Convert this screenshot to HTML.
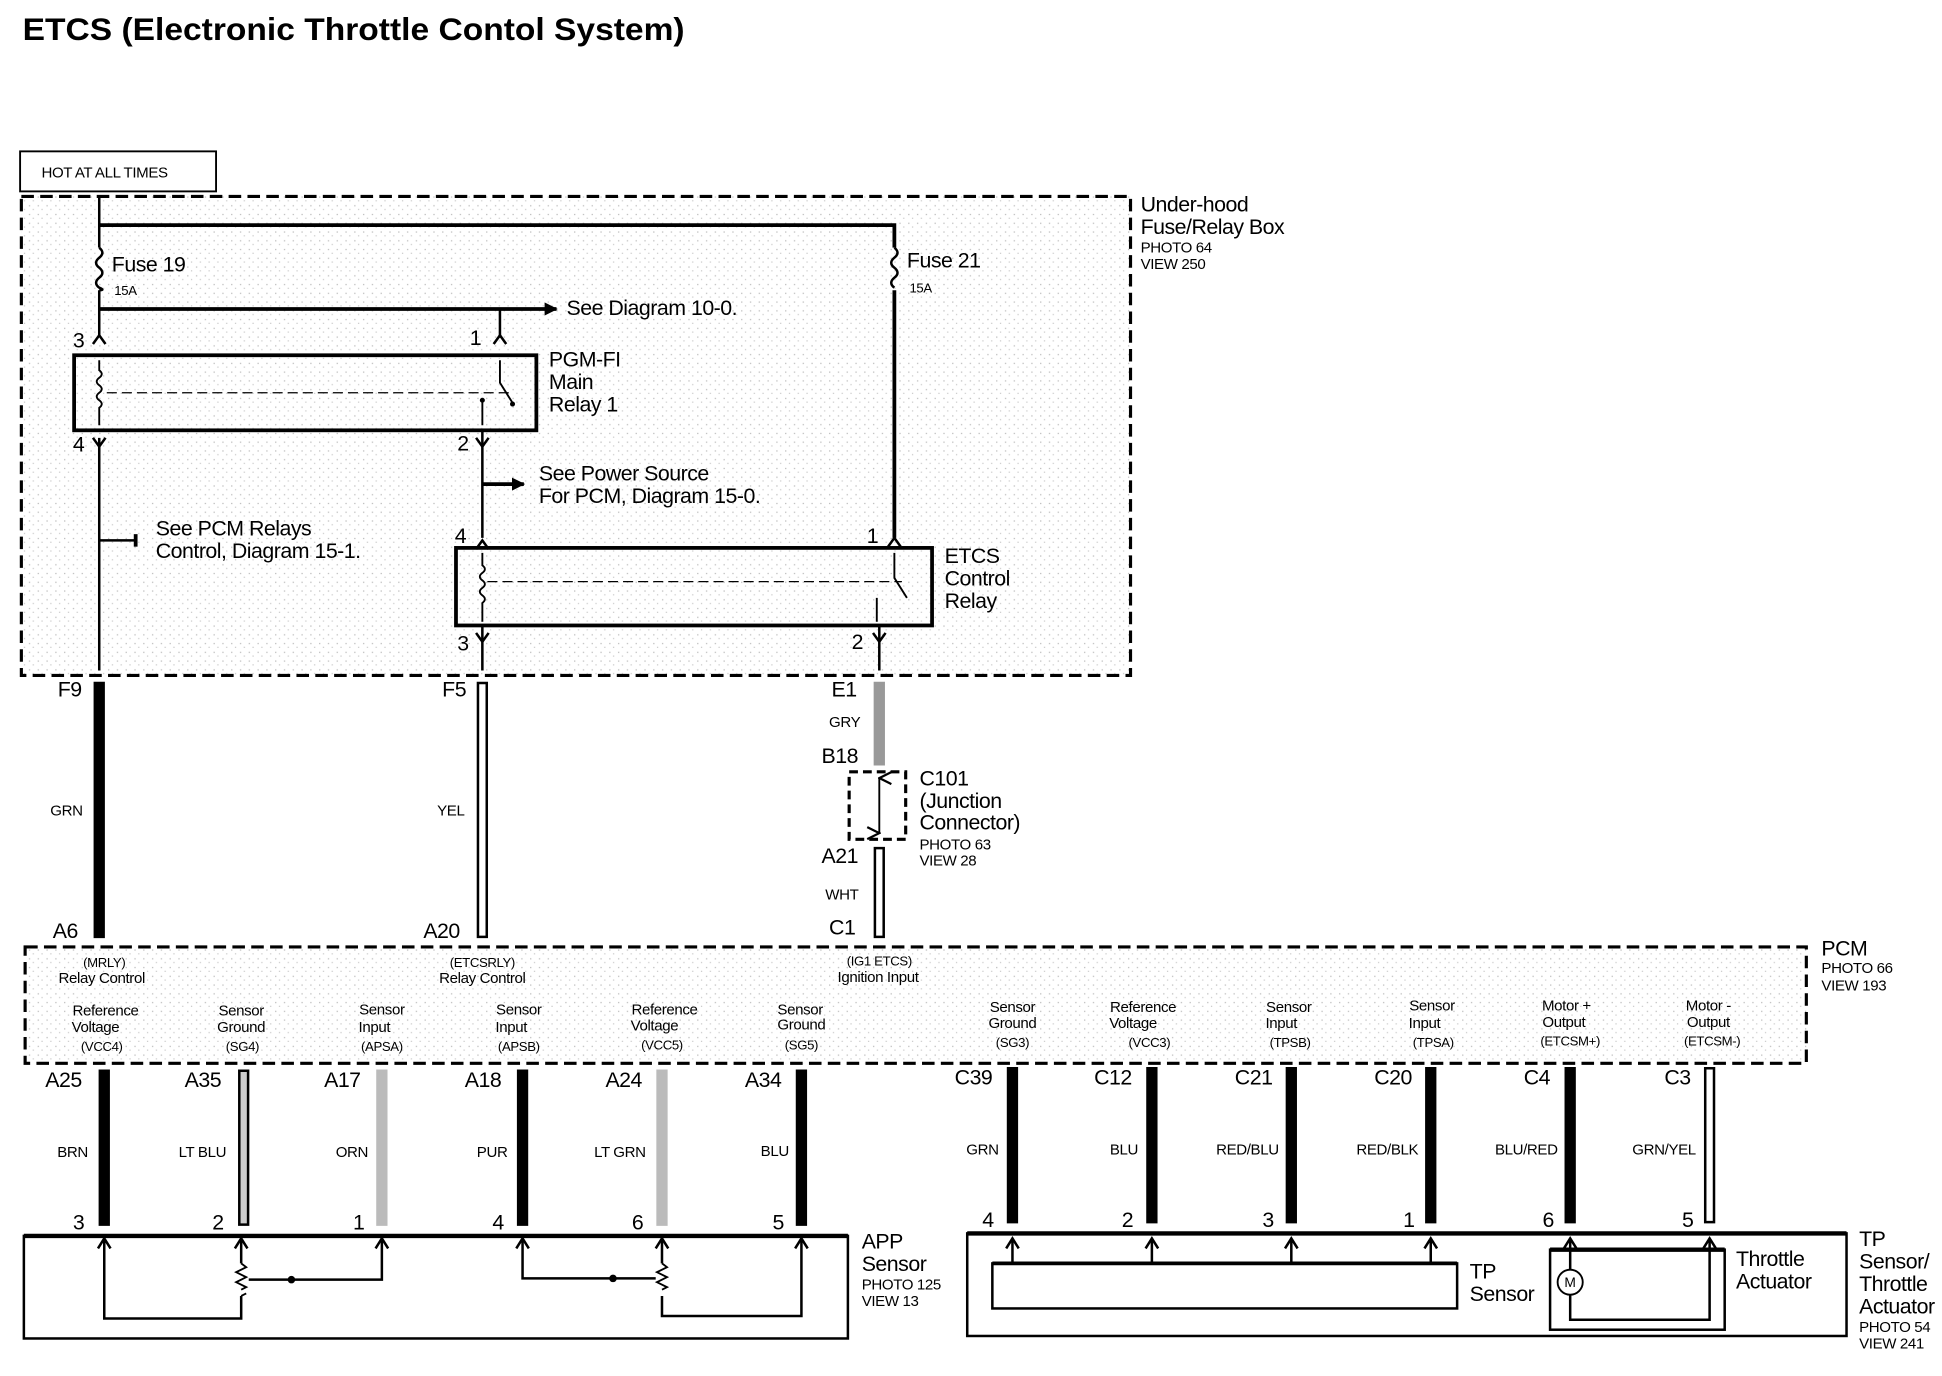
<!DOCTYPE html>
<html><head><meta charset="utf-8"><style>
html,body{margin:0;padding:0;background:#fff;}
svg{display:block;}
text{font-family:"Liberation Sans Narrow","Liberation Sans",Arial,sans-serif;fill:#000;}
.b{font-size:17px;letter-spacing:-0.4px;}
.s{font-size:12px;letter-spacing:-0.3px;}
.xs{font-size:10.5px;letter-spacing:-0.3px;}
.w{fill:none;stroke:#000;stroke-width:2;}
.bk{stroke:#000;stroke-width:9;}
.wh1{stroke:#000;stroke-width:9;}
.wh2{stroke:#fff;stroke-width:5;}
.gr{stroke:#999;stroke-width:9;}
.lg{stroke:#bbb;stroke-width:9;}
</style></head><body>
<svg width="1942" height="1376" viewBox="0 0 1546 1100" preserveAspectRatio="none" xmlns="http://www.w3.org/2000/svg">
<defs>
<pattern id="st" width="7" height="7" patternUnits="userSpaceOnUse"><rect width="7" height="7" fill="#fff"/><rect x="2" y="3" width="1" height="1" fill="#bbb"/><rect x="5" y="6" width="1" height="1" fill="#ccc"/></pattern>
<marker id="ah" viewBox="0 0 10 10" refX="9" refY="5" markerWidth="3.5" markerHeight="3.5" orient="auto"><path d="M0,0 L10,5 L0,10 z" fill="#000"/></marker>
<marker id="up" viewBox="0 0 10 10" refX="5" refY="1" markerWidth="8" markerHeight="8" orient="auto-start-reverse"><path d="M1,9 L5,1 L9,9" fill="none" stroke="#000" stroke-width="1.5"/></marker>
</defs>
<text x="18" y="32" font-size="25" font-weight="bold" textLength="527" lengthAdjust="spacingAndGlyphs" style="font-family:'Liberation Sans',sans-serif">ETCS (Electronic Throttle Contol System)</text>

<rect x="16" y="121" width="156" height="32" fill="#fff" stroke="#000" stroke-width="1.5"/>
<text x="33" y="142" class="s">HOT AT ALL TIMES</text>

<rect x="17" y="157" width="883" height="383" fill="url(#st)" stroke="#000" stroke-width="2.5" stroke-dasharray="10,5"/>
<text x="908" y="169" class="b">Under-hood</text>
<text x="908" y="187" class="b">Fuse/Relay Box</text>
<text x="908" y="202" class="s">PHOTO 64</text>
<text x="908" y="215" class="s">VIEW 250</text>

<path class="w" d="M79,157 V198 M79,232 V268 M79,350 V536"/>
<path d="M79,198 q5,4 0,8 q-5,4 0,8 q5,4 0,8 q-5,4 0,8 q5,2 0,2" fill="none" stroke="#000" stroke-width="2"/>
<path class="w" d="M79,180 H712 V198 M712,232 V430" style="stroke-width:3"/>
<path d="M712,198 q5,4 0,8 q-5,4 0,8 q5,4 0,8 q-5,4 0,8" fill="none" stroke="#000" stroke-width="2"/>
<text x="89" y="217" class="b">Fuse 19</text><text x="91" y="236" class="xs">15A</text>
<text x="722" y="214" class="b">Fuse 21</text><text x="724" y="234" class="xs">15A</text>
<line x1="79" y1="247" x2="443" y2="247" stroke="#000" stroke-width="3" marker-end="url(#ah)"/>
<text x="451" y="252" class="b">See Diagram 10-0.</text>
<path class="w" d="M398,247 V270"/>
<text x="58" y="278" class="b">3</text><text x="374" y="276" class="b">1</text>
<path class="w" d="M74,275 L79,268 L84,275 M393,275 L398,268 L403,275"/>

<rect x="59" y="284" width="368" height="60" fill="none" stroke="#000" stroke-width="3"/>
<path d="M79,288 V296 q4,3 0,6 q-4,3 0,6 q4,3 0,6 q-4,3 0,6 q4,3 0,6 V340" fill="none" stroke="#000" stroke-width="1.5"/>
<line x1="85" y1="314" x2="405" y2="314" stroke="#000" stroke-width="1" stroke-dasharray="8,4"/>
<path d="M398,288 V306 L408,322 M384,320 V340" fill="none" stroke="#000" stroke-width="1.5"/>
<circle cx="408" cy="323" r="2"/><circle cx="384" cy="320" r="2"/>
<text x="437" y="293" class="b">PGM-FI</text><text x="437" y="311" class="b">Main</text><text x="437" y="329" class="b">Relay 1</text>
<text x="58" y="361" class="b">4</text><text x="364" y="360" class="b">2</text>
<path class="w" d="M74,350 L79,357 L84,350 M379,350 L384,357 L389,350"/>
<path class="w" d="M384,344 V430"/>
<line x1="384" y1="387" x2="417" y2="387" stroke="#000" stroke-width="3" marker-end="url(#ah)"/>
<text x="429" y="384" class="b">See Power Source</text>
<text x="429" y="402" class="b">For PCM, Diagram 15-0.</text>
<line x1="79" y1="432" x2="108" y2="432" stroke="#000" stroke-width="2"/><line x1="108" y1="427" x2="108" y2="437" stroke="#000" stroke-width="3"/>
<text x="124" y="428" class="b">See PCM Relays</text>
<text x="124" y="446" class="b">Control, Diagram 15-1.</text>
<text x="362" y="434" class="b">4</text><text x="690" y="434" class="b">1</text>
<path class="w" d="M379,439 L384,432 L389,439 M707,437 L712,430 L717,437"/>

<rect x="363" y="438" width="379" height="62" fill="none" stroke="#000" stroke-width="3"/>
<path d="M384,442 V452 q4,3 0,6 q-4,3 0,6 q4,3 0,6 q-4,3 0,6 q4,3 0,6 V497" fill="none" stroke="#000" stroke-width="1.5"/>
<line x1="388" y1="465" x2="718" y2="465" stroke="#000" stroke-width="1" stroke-dasharray="8,4"/>
<path d="M712,442 V462 L722,478 M698,478 V497" fill="none" stroke="#000" stroke-width="1.5"/>
<text x="752" y="450" class="b">ETCS</text><text x="752" y="468" class="b">Control</text><text x="752" y="486" class="b">Relay</text>
<text x="364" y="520" class="b">3</text><text x="678" y="519" class="b">2</text>
<path class="w" d="M379,506 L384,513 L389,506 M695,506 L700,513 L705,506"/>
<path class="w" d="M384,500 V536 M700,500 V536"/>

<text x="46" y="557" class="b">F9</text><text x="352" y="557" class="b">F5</text><text x="662" y="557" class="b">E1</text>
<line x1="79" y1="545" x2="79" y2="750" class="bk"/>
<text x="40" y="652" class="s">GRN</text>
<line x1="384" y1="545" x2="384" y2="750" class="wh1"/><line x1="384" y1="547" x2="384" y2="748" class="wh2"/>
<text x="348" y="652" class="s">YEL</text>
<line x1="700" y1="545" x2="700" y2="612" class="gr"/>
<text x="660" y="581" class="s">GRY</text>
<text x="654" y="610" class="b">B18</text>
<rect x="676" y="617" width="45" height="54" fill="none" stroke="#000" stroke-width="2.5" stroke-dasharray="7,4"/>
<line x1="700" y1="622" x2="700" y2="666" stroke="#000" stroke-width="1.5" marker-start="url(#up)" marker-end="url(#up)"/>
<text x="732" y="628" class="b">C101</text><text x="732" y="646" class="b">(Junction</text><text x="732" y="663" class="b">Connector)</text>
<text x="732" y="679" class="s">PHOTO 63</text><text x="732" y="692" class="s">VIEW 28</text>
<text x="654" y="690" class="b">A21</text>
<line x1="700" y1="677" x2="700" y2="750" class="wh1"/><line x1="700" y1="679" x2="700" y2="748" class="wh2"/>
<text x="657" y="719" class="s">WHT</text>
<text x="660" y="747" class="b">C1</text>
<text x="42" y="750" class="b">A6</text><text x="337" y="750" class="b">A20</text>

<rect x="20" y="757" width="1418" height="93" fill="url(#st)" stroke="#000" stroke-width="2.5" stroke-dasharray="10,5"/>
<text x="1450" y="764" class="b">PCM</text><text x="1450" y="778" class="s">PHOTO 66</text><text x="1450" y="792" class="s">VIEW 193</text>
<g class="xs" text-anchor="middle">
<text x="83" y="773">(MRLY)</text><text x="384" y="773">(ETCSRLY)</text><text x="700" y="772">(IG1 ETCS)</text>
</g>
<g class="s" text-anchor="middle">
<text x="81" y="786">Relay Control</text><text x="384" y="786">Relay Control</text><text x="699" y="785">Ignition Input</text>
<text x="84" y="812">Reference</text><text x="76" y="825">Voltage</text>
<text x="192" y="812">Sensor</text><text x="192" y="825">Ground</text>
<text x="304" y="811">Sensor</text><text x="298" y="825">Input</text>
<text x="413" y="811">Sensor</text><text x="407" y="825">Input</text>
<text x="529" y="811">Reference</text><text x="521" y="824">Voltage</text>
<text x="637" y="811">Sensor</text><text x="638" y="823">Ground</text>
<text x="806" y="809">Sensor</text><text x="806" y="822">Ground</text>
<text x="910" y="809">Reference</text><text x="902" y="822">Voltage</text>
<text x="1026" y="809">Sensor</text><text x="1020" y="822">Input</text>
<text x="1140" y="808">Sensor</text><text x="1134" y="822">Input</text>
<text x="1247" y="808">Motor +</text><text x="1245" y="821">Output</text>
<text x="1360" y="808">Motor -</text><text x="1360" y="821">Output</text>
</g>
<g class="xs" text-anchor="middle">
<text x="81" y="840">(VCC4)</text><text x="193" y="840">(SG4)</text><text x="304" y="840">(APSA)</text><text x="413" y="840">(APSB)</text><text x="527" y="839">(VCC5)</text><text x="638" y="839">(SG5)</text>
<text x="806" y="837">(SG3)</text><text x="915" y="837">(VCC3)</text><text x="1027" y="837">(TPSB)</text><text x="1141" y="837">(TPSA)</text><text x="1250" y="836">(ETCSM+)</text><text x="1363" y="836">(ETCSM-)</text>
</g>

<g class="b">
<text x="36" y="869">A25</text><text x="147" y="869">A35</text><text x="258" y="869">A17</text><text x="370" y="869">A18</text><text x="482" y="869">A24</text><text x="593" y="869">A34</text>
<text x="760" y="867">C39</text><text x="871" y="867">C12</text><text x="983" y="867">C21</text><text x="1094" y="867">C20</text><text x="1213" y="867">C4</text><text x="1325" y="867">C3</text>
</g>
<line x1="83" y1="855" x2="83" y2="980" class="bk"/>
<line x1="194" y1="855" x2="194" y2="980" class="wh1"/><line x1="194" y1="857" x2="194" y2="978" stroke="#ccc" stroke-width="5"/>
<line x1="304" y1="855" x2="304" y2="980" class="lg"/>
<line x1="416" y1="855" x2="416" y2="980" class="bk"/>
<line x1="527" y1="855" x2="527" y2="980" class="lg"/>
<line x1="638" y1="855" x2="638" y2="980" class="bk"/>
<line x1="806" y1="853" x2="806" y2="978" class="bk"/>
<line x1="917" y1="853" x2="917" y2="978" class="bk"/>
<line x1="1028" y1="853" x2="1028" y2="978" class="bk"/>
<line x1="1139" y1="853" x2="1139" y2="978" class="bk"/>
<line x1="1250" y1="853" x2="1250" y2="978" class="bk"/>
<line x1="1361" y1="853" x2="1361" y2="978" class="wh1"/><line x1="1361" y1="855" x2="1361" y2="976" class="wh2"/>
<g class="s" text-anchor="end">
<text x="70" y="925">BRN</text><text x="180" y="925">LT BLU</text><text x="293" y="925">ORN</text><text x="404" y="925">PUR</text><text x="514" y="925">LT GRN</text><text x="628" y="924">BLU</text>
<text x="795" y="923">GRN</text><text x="906" y="923">BLU</text><text x="1018" y="923">RED/BLU</text><text x="1129" y="923">RED/BLK</text><text x="1240" y="923">BLU/RED</text><text x="1350" y="923">GRN/YEL</text>
</g>
<g class="b">
<text x="58" y="983">3</text><text x="169" y="983">2</text><text x="281" y="983">1</text><text x="392" y="983">4</text><text x="503" y="983">6</text><text x="615" y="983">5</text>
<text x="782" y="981">4</text><text x="893" y="981">2</text><text x="1005" y="981">3</text><text x="1117" y="981">1</text><text x="1228" y="981">6</text><text x="1339" y="981">5</text>
</g>

<rect x="19" y="988" width="656" height="82" fill="#fff" stroke="#000" stroke-width="2"/>
<line x1="19" y1="988" x2="675" y2="988" stroke="#000" stroke-width="3.5"/>
<g fill="none" stroke="#000" stroke-width="2">
<path d="M83,992 V1054 H192 V1036 M192,992 V1010"/>
<path d="M192,1010 l4,3 l-8,4 l8,4 l-8,4 l8,4 l-4,2 M192,1036 l4,-2" stroke-width="1.5"/>
<path d="M304,992 V1023 H198"/>
<path d="M416,992 V1022 H522"/>
<path d="M527,992 V1010 M527,1036 V1052 H638 V992"/>
<path d="M527,1010 l4,3 l-8,4 l8,4 l-8,4 l8,4 l-4,2" stroke-width="1.5"/>
<path d="M78,998 L83,990 L88,998 M187,998 L192,990 L197,998 M299,998 L304,990 L309,998 M411,998 L416,990 L421,998 M522,998 L527,990 L532,998 M633,998 L638,990 L643,998"/>
</g>
<circle cx="232" cy="1023" r="3"/><circle cx="488" cy="1022" r="3"/>
<text x="686" y="998" class="b">APP</text><text x="686" y="1016" class="b">Sensor</text>
<text x="686" y="1031" class="s">PHOTO 125</text><text x="686" y="1044" class="s">VIEW 13</text>

<rect x="770" y="986" width="700" height="82" fill="#fff" stroke="#000" stroke-width="2"/>
<line x1="770" y1="986" x2="1470" y2="986" stroke="#000" stroke-width="3.5"/>
<rect x="790" y="1010" width="370" height="36" fill="none" stroke="#000" stroke-width="2"/>
<line x1="790" y1="1010" x2="1160" y2="1010" stroke="#000" stroke-width="3"/>
<g fill="none" stroke="#000" stroke-width="2">
<path d="M806,1010 V991 M917,1010 V991 M1028,1010 V991 M1139,1010 V991"/>
<path d="M801,998 L806,990 L811,998 M912,998 L917,990 L922,998 M1023,998 L1028,990 L1033,998 M1134,998 L1139,990 L1144,998 M1245,998 L1250,990 L1255,998 M1356,998 L1361,990 L1366,998"/>
<rect x="1234" y="999" width="139" height="64"/>
<path d="M1234,999 H1373" stroke-width="3.5"/>
<path d="M1250,992 V1015 M1250,1035 V1055 H1361 V992"/>
<circle cx="1250" cy="1025" r="10" stroke-width="1.5"/>
</g>
<text x="1250" y="1029" font-size="11" text-anchor="middle">M</text>
<text x="1170" y="1022" class="b">TP</text><text x="1170" y="1040" class="b">Sensor</text>
<text x="1382" y="1012" class="b">Throttle</text><text x="1382" y="1030" class="b">Actuator</text>
<text x="1480" y="996" class="b">TP</text><text x="1480" y="1014" class="b">Sensor/</text><text x="1480" y="1032" class="b">Throttle</text><text x="1480" y="1050" class="b">Actuator</text>
<text x="1480" y="1065" class="s">PHOTO 54</text><text x="1480" y="1078" class="s">VIEW 241</text>
</svg>
</body></html>
